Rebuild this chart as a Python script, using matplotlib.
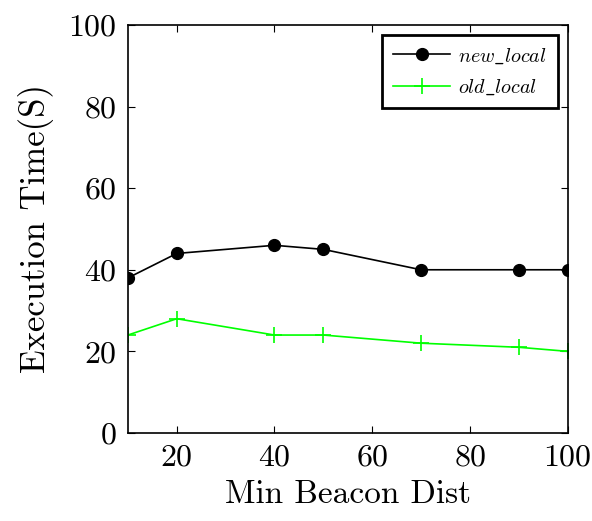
import numpy as np
import matplotlib.pyplot as plt

plt.rcParams['font.family'] = 'cmr10'
plt.rcParams['mathtext.fontset'] = 'cm'
plt.rcParams['axes.formatter.use_mathtext'] = True

dist = [10, 20, 40, 50, 70, 90, 100]
new_local = [38, 44, 46, 45, 40, 40, 40]
old_local = [24, 28, 24, 24, 22, 21, 20]

fig, ax = plt.subplots(figsize=(5.92, 5.21), dpi=100)
fig.subplots_adjust(left=0.216, right=0.959, bottom=0.169, top=0.952)

ax.plot(dist, new_local, marker='o', color='black', lw=1.2, ms=8.5,
        label=r'$new\_local$')
ax.plot(dist, old_local, marker='+', color='#00ff00', lw=1.2, ms=12, mew=1.2,
        label=r'$old\_local$')

ax.set_xlim(10, 100)
ax.set_ylim(0, 100)
ax.set_xticks([20, 40, 60, 80, 100])
ax.set_yticks([0, 20, 40, 60, 80, 100])
ax.tick_params(direction='in', top=True, right=True, labelsize=23, length=5, pad=8)
for s in ax.spines.values():
    s.set_linewidth(1.2)

ax.set_xlabel('Min Beacon Dist', fontsize=24, labelpad=6)
ax.set_ylabel('Execution Time(S)', fontsize=25, labelpad=10)

leg = ax.legend(loc='upper right', fontsize=14.5, fancybox=False, edgecolor='black',
                framealpha=1, borderpad=0.55, handlelength=2.8, labelspacing=0.6,
                handletextpad=0.4, borderaxespad=0.5)
leg.get_frame().set_linewidth(2)

fig.savefig('out.png', dpi=100)
